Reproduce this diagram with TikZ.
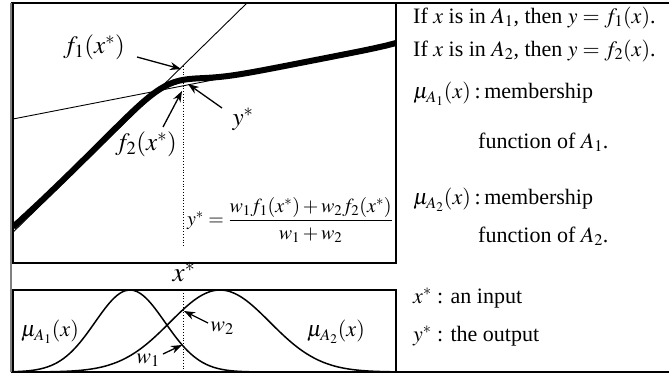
\documentclass[tikz,border=0pt]{standalone}
\usepackage{amsmath}
\usepackage{mathptmx}
\usepackage{fontspec}
\setmainfont{Liberation Serif}
\usetikzlibrary{arrows.meta}

\begin{document}
\begin{tikzpicture}[x=1pt, y=-1pt,
    >=Stealth,
    frame/.style={line width=1.4pt},
    curve/.style={line width=1.5pt},
    ptr/.style={line width=1.3pt, -{Stealth[length=11pt, width=8pt]}},
    lbl/.style={font=\fontsize{25}{28}\selectfont, inner sep=0pt},
    sml/.style={font=\fontsize{22}{25}\selectfont, inner sep=0pt},
    txt/.style={font=\fontsize{22}{26}\selectfont, anchor=west, inner sep=0pt},
    declare function={
      wa(\x)=exp(-0.5*((\x-130)/35)^2);
      wb(\x)=exp(-0.5*((\x-220)/50)^2);
      fa(\x)=147-0.98*(\x-100);
      fb(\x)=119-0.195*(\x-13);
    },
]
\useasboundingbox (0,0) rectangle (669,374);

% Frame and panels
\draw[frame] (11,3) -- (669,3);
\draw[frame] (11,372) -- (669,372);
\draw[line width=2pt, gray] (10.5,3) -- (10.5,372);
\draw[frame] (13,3) rectangle (396,263);
\draw[frame] (13,290) rectangle (396,372);

% --- Upper panel: the two rule outputs and the blended output
\begin{scope}
  \clip (13,3) rectangle (396,263);
  \draw[line width=0.9pt] (13,{fa(13)}) -- (247,3);
  \draw[line width=0.9pt] (13,{fb(13)}) -- (396,{fb(396)});
  \draw[line width=6pt] plot[domain=13:396, samples=120, smooth]
    (\x, {(wa(\x)*fa(\x)+wb(\x)*fb(\x))/(wa(\x)+wb(\x))});
\end{scope}
\draw[dotted, line width=0.8pt] (183,66) -- (183,247);

\coordinate (pf1) at (181,69);
\coordinate (tf1) at (137,57);
\coordinate (pf2) at (182,91);
\coordinate (tf2) at (163,127);
\coordinate (pys) at (188,84);
\coordinate (tys) at (222,108);

\node[lbl] (lf1) at (94,47) {$f_1(x^*)$};
\node[lbl] (lf2) at (146,144) {$f_2(x^*)$};
\node[lbl] (lys) at (243,119) {$y^*$};
\draw[ptr] (tf1) -- (pf1);
\draw[ptr] (tf2) -- (pf2);
\draw[ptr] (tys) -- (pys);

\node[inner sep=0pt, font=\fontsize{20}{24}\selectfont] (lform) at (290,220)
  {$y^* = \dfrac{w_1 f_1(x^*) + w_2 f_2(x^*)}{w_1 + w_2}$};

\node[inner sep=0pt, font=\fontsize{27}{30}\selectfont] (lxs) at (184,272) {$x^*$};

% --- Lower panel: membership functions
\begin{scope}
  \clip (13,290) rectangle (396,372);
  \draw[curve] plot[domain=13:396, samples=100, smooth] (\x, {372-82*wa(\x)});
  \draw[curve] plot[domain=13:396, samples=100, smooth] (\x, {372-82*wb(\x)});
\end{scope}
\draw[dotted, line width=0.8pt] (183,290) -- (183,372);

\coordinate (pw1) at (182,345);
\coordinate (tw1) at (163,354);
\coordinate (pw2) at (184,311);
\coordinate (tw2) at (208,323);

\node[sml] (lmua) at (50,332) {$\mu_{A_1}(x)$};
\node[sml] (lmub) at (336,332) {$\mu_{A_2}(x)$};
\node[sml] (lw1) at (148,360) {$w_1$};
\node[sml] (lw2) at (222,328) {$w_2$};
\draw[ptr] (tw1) -- (pw1);
\draw[ptr] (tw2) -- (pw2);

% --- Right column: rules and notation
\node[txt] (r1) at (413,18) {If $x$ is in $A_1$, then $y = f_1(x)$.};
\node[txt] (r2) at (413,51) {If $x$ is in $A_2$, then $y = f_2(x)$.};
\node[txt] (m1) at (413,94) {$\mu_{A_1}(x)$\,:\,membership};
\node[txt] (m1b) at (478,142) {function of $A_1$.};
\node[txt] (m2) at (413,200) {$\mu_{A_2}(x)$\,:\,membership};
\node[txt] (m2b) at (478,236) {function of $A_2$.};
\node[txt] (xin) at (413,298) {$x^*$ : an input};
\node[txt] (yout) at (413,336) {$y^*$ : the output};

\end{tikzpicture}
\end{document}
